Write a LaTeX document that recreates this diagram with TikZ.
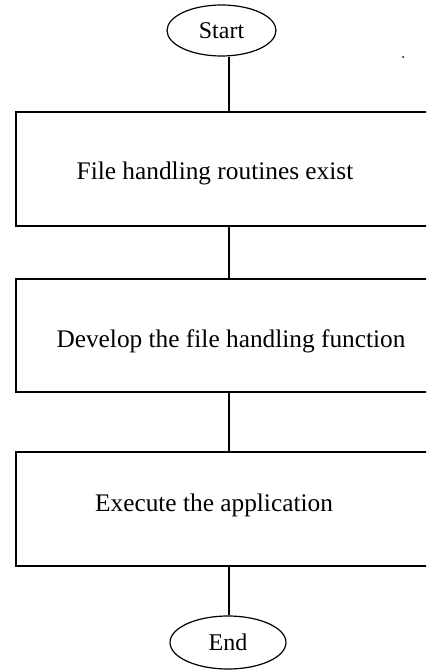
\documentclass[tikz,border=0pt]{standalone}
\usepackage{fontspec}
\setmainfont{Liberation Serif}
\usetikzlibrary{shapes.geometric}

\tikzset{every picture/.style={line width=0.75pt}}
\tikzset{
  terminal/.style={draw, ellipse, inner sep=0pt, line width=0.9pt, font=\fontsize{18}{20}\selectfont},
  stepbox/.style={draw, rectangle, inner sep=0pt, line width=1.3pt, minimum width=319.5pt},
  flowline/.style={line width=1.3pt},
  boxtext/.style={font=\fontsize{19}{22}\selectfont}
}

\begin{document}
\begin{tikzpicture}[x=0.75pt,y=0.75pt,yscale=-1,xscale=1]
%set diagram to 426 x 670, boxes run past the right edge
\path[use as bounding box, clip] (0,0) rectangle (426,670);

%Shape: Ellipse
\node [terminal, minimum width=81.75pt, minimum height=38.25pt] (start) at (221.5,30.5) {Start};

%Shape: Rectangle
\node [stepbox, minimum height=85.5pt] (routines) at (229,169) {};
%Shape: Rectangle
\node [stepbox, minimum height=84.75pt] (develop) at (229,335.5) {};
%Shape: Rectangle
\node [stepbox, minimum height=85.5pt] (execute) at (229,509) {};

%Shape: Ellipse
\node [terminal, minimum width=87pt, minimum height=39.75pt] (stop) at (228,642.5) {End};

%Straight Lines
\draw [flowline]  (routines.north |- start.south) -- (routines.north) ;
%Straight Lines
\draw [flowline]  (routines.south) -- (develop.north) ;
%Straight Lines
\draw [flowline]  (develop.south) -- (execute.north) ;
%Straight Lines
\draw [flowline]  (execute.south) -- (execute.south |- stop.north) ;

% Text Node
\node [boxtext] (routinestext) at (215,173) {File handling routines exist};
% Text Node
\node [boxtext] (developtext) at (231,341) {Develop the file handling function};
% Text Node
\node [boxtext] (executetext) at (214,505) {Execute the application};

%stray dot
\fill (403,57) circle (1) ;

\end{tikzpicture}
\end{document}
